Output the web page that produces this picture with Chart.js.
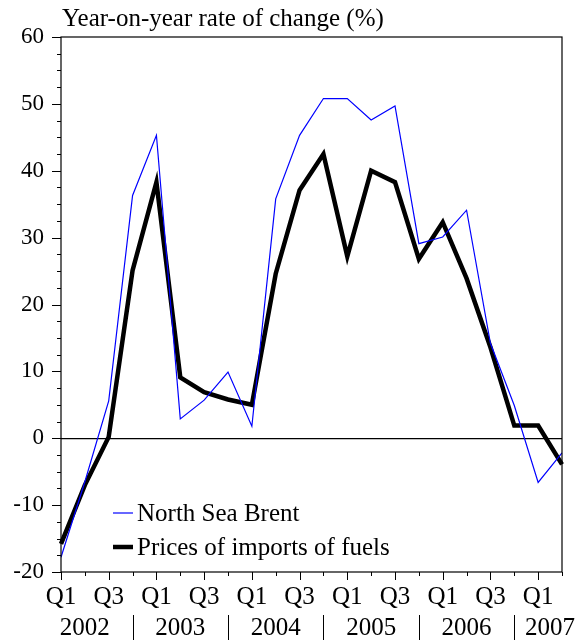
<!DOCTYPE html>
<html>
<head>
<meta charset="utf-8">
<title>Brent and fuel import prices</title>
<script src="https://cdn.jsdelivr.net/npm/chart.js@4/dist/chart.umd.min.js"></script>
<style>
  html, body { margin: 0; padding: 0; background: #fff; }
  #wrap { width: 583px; height: 640px; position: relative; }
</style>
</head>
<body>
<div id="wrap"><canvas id="fuelChart"></canvas></div>
<script>
// Quarterly series, 2002 Q1 to 2007 Q2
var quarters = ['Q1','Q2','Q3','Q4','Q1','Q2','Q3','Q4','Q1','Q2','Q3','Q4',
                'Q1','Q2','Q3','Q4','Q1','Q2','Q3','Q4','Q1','Q2'];
var years = ['2002', '2003', '2004', '2005', '2006', '2007'];
var brent = [-17.8, -6.5, 5.6, 36.3, 45.3, 2.9, 5.7, 9.9, 1.8, 35.8, 45.3,
             50.8, 50.8, 47.6, 49.7, 29.1, 30.1, 34.1, 14.2, 4.9, -6.6, -2.2];
var fuels = [-15.8, -7.0, 0.2, 25.1, 38.3, 9.1, 6.9, 5.8, 5.0, 24.6, 37.1,
             42.5, 27.2, 40.0, 38.3, 26.8, 32.3, 23.9, 13.6, 1.9, 1.9, -3.9];
var yTicks = [-20, -10, 0, 10, 20, 30, 40, 50, 60];

var FONT = "'Liberation Serif', 'Times New Roman', serif";
var FONT_SIZE = 25;
var Y_FONT_SIZE = 23;

// frame, tick marks, year row, title and legend
var decorations = {
    id: 'decorations',
    afterDraw: function(chart) {
        var ctx = chart.ctx;
        var area = chart.chartArea;
        var x = chart.scales.x;
        var y = chart.scales.y;
        ctx.save();
        ctx.strokeStyle = '#000';
        ctx.lineWidth = 1.2;
        ctx.strokeRect(area.left, area.top, area.right - area.left, area.bottom - area.top);

        // y ticks, major every 10, minor every 2.5
        ctx.lineWidth = 1;
        ctx.beginPath();
        for (var v = y.min; v <= y.max + 0.001; v += 2.5) {
            var py = Math.round(y.getPixelForValue(v)) + 0.5;
            var len = (v % 10 === 0) ? 9 : 4;
            ctx.moveTo(area.left - len, py);
            ctx.lineTo(area.left, py);
        }
        // x ticks, longer on Q1 and Q3
        quarters.forEach(function(q, i) {
            var px = Math.round(x.getPixelForValue(i)) + 0.5;
            var len = (q === 'Q1' || q === 'Q3') ? 8 : 4;
            ctx.moveTo(px, area.bottom);
            ctx.lineTo(px, area.bottom + len);
        });
        ctx.stroke();

        // year row with separators at each Q4
        ctx.font = FONT_SIZE + 'px ' + FONT;
        ctx.fillStyle = '#000';
        ctx.textAlign = 'center';
        ctx.textBaseline = 'alphabetic';
        ctx.beginPath();
        years.forEach(function(yr, k) {
            var sep = k * 4 + 3;
            if (sep < quarters.length - 1) {
                var sx = Math.round(x.getPixelForValue(sep)) + 0.5;
                ctx.moveTo(sx, 615);
                ctx.lineTo(sx, 640);
            }
            var cx = Math.min(x.getPixelForValue(k * 4 + 1),
                              (x.getPixelForValue(k * 4) + area.right) / 2);
            ctx.fillText(yr, cx, 635);
        });
        ctx.stroke();

        // axis title
        ctx.textAlign = 'left';
        ctx.fillText('Year-on-year rate of change (%)', area.left + 1, 26);

        // legend
        ctx.textBaseline = 'middle';
        chart.data.datasets.forEach(function(ds, i) {
            var ly = 513 + i * 34;
            ctx.strokeStyle = ds.borderColor;
            ctx.lineWidth = ds.borderWidth;
            ctx.beginPath();
            ctx.moveTo(113, ly);
            ctx.lineTo(133, ly);
            ctx.stroke();
            ctx.fillText(ds.label, 137, ly + 1);
        });
        ctx.restore();
    }
};

new Chart(document.getElementById('fuelChart'), {
    type: 'line',
    data: {
        labels: quarters,
        datasets: [
            {
                label: 'North Sea Brent',
                data: brent,
                borderColor: '#0000ff',
                borderWidth: 1.2,
                pointRadius: 0,
                tension: 0,
                fill: false
            },
            {
                label: 'Prices of imports of fuels',
                data: fuels,
                borderColor: '#000000',
                borderWidth: 4.5,
                pointRadius: 0,
                tension: 0,
                fill: false
            }
        ]
    },
    options: {
        responsive: true,
        maintainAspectRatio: false,
        animation: false,
        layout: { padding: { top: 37, right: 21, left: 0, bottom: 0 } },
        plugins: {
            legend: { display: false },
            tooltip: { enabled: false }
        },
        scales: {
            x: {
                type: 'category',
                offset: false,
                afterFit: function(scale) { scale.height = 68; },
                grid: { display: false, drawTicks: false },
                border: { display: false },
                ticks: {
                    autoSkip: false,
                    maxRotation: 0,
                    padding: 10,
                    color: '#000',
                    font: { family: FONT, size: FONT_SIZE },
                    callback: function(value, index) {
                        var q = quarters[index];
                        return (q === 'Q1' || q === 'Q3') ? q : '';
                    }
                }
            },
            y: {
                min: -20,
                max: 60,
                afterFit: function(scale) { scale.width = 61; },
                afterBuildTicks: function(scale) {
                    scale.ticks = yTicks.map(function(v) { return { value: v }; });
                },
                grid: {
                    drawTicks: false,
                    color: function(c) { return c.tick && c.tick.value === 0 ? '#000' : 'rgba(0,0,0,0)'; },
                    lineWidth: 1.2
                },
                border: { display: false },
                ticks: {
                    padding: 17,
                    color: '#000',
                    font: { family: FONT, size: Y_FONT_SIZE }
                }
            }
        }
    },
    plugins: [decorations]
});
</script>
</body>
</html>
